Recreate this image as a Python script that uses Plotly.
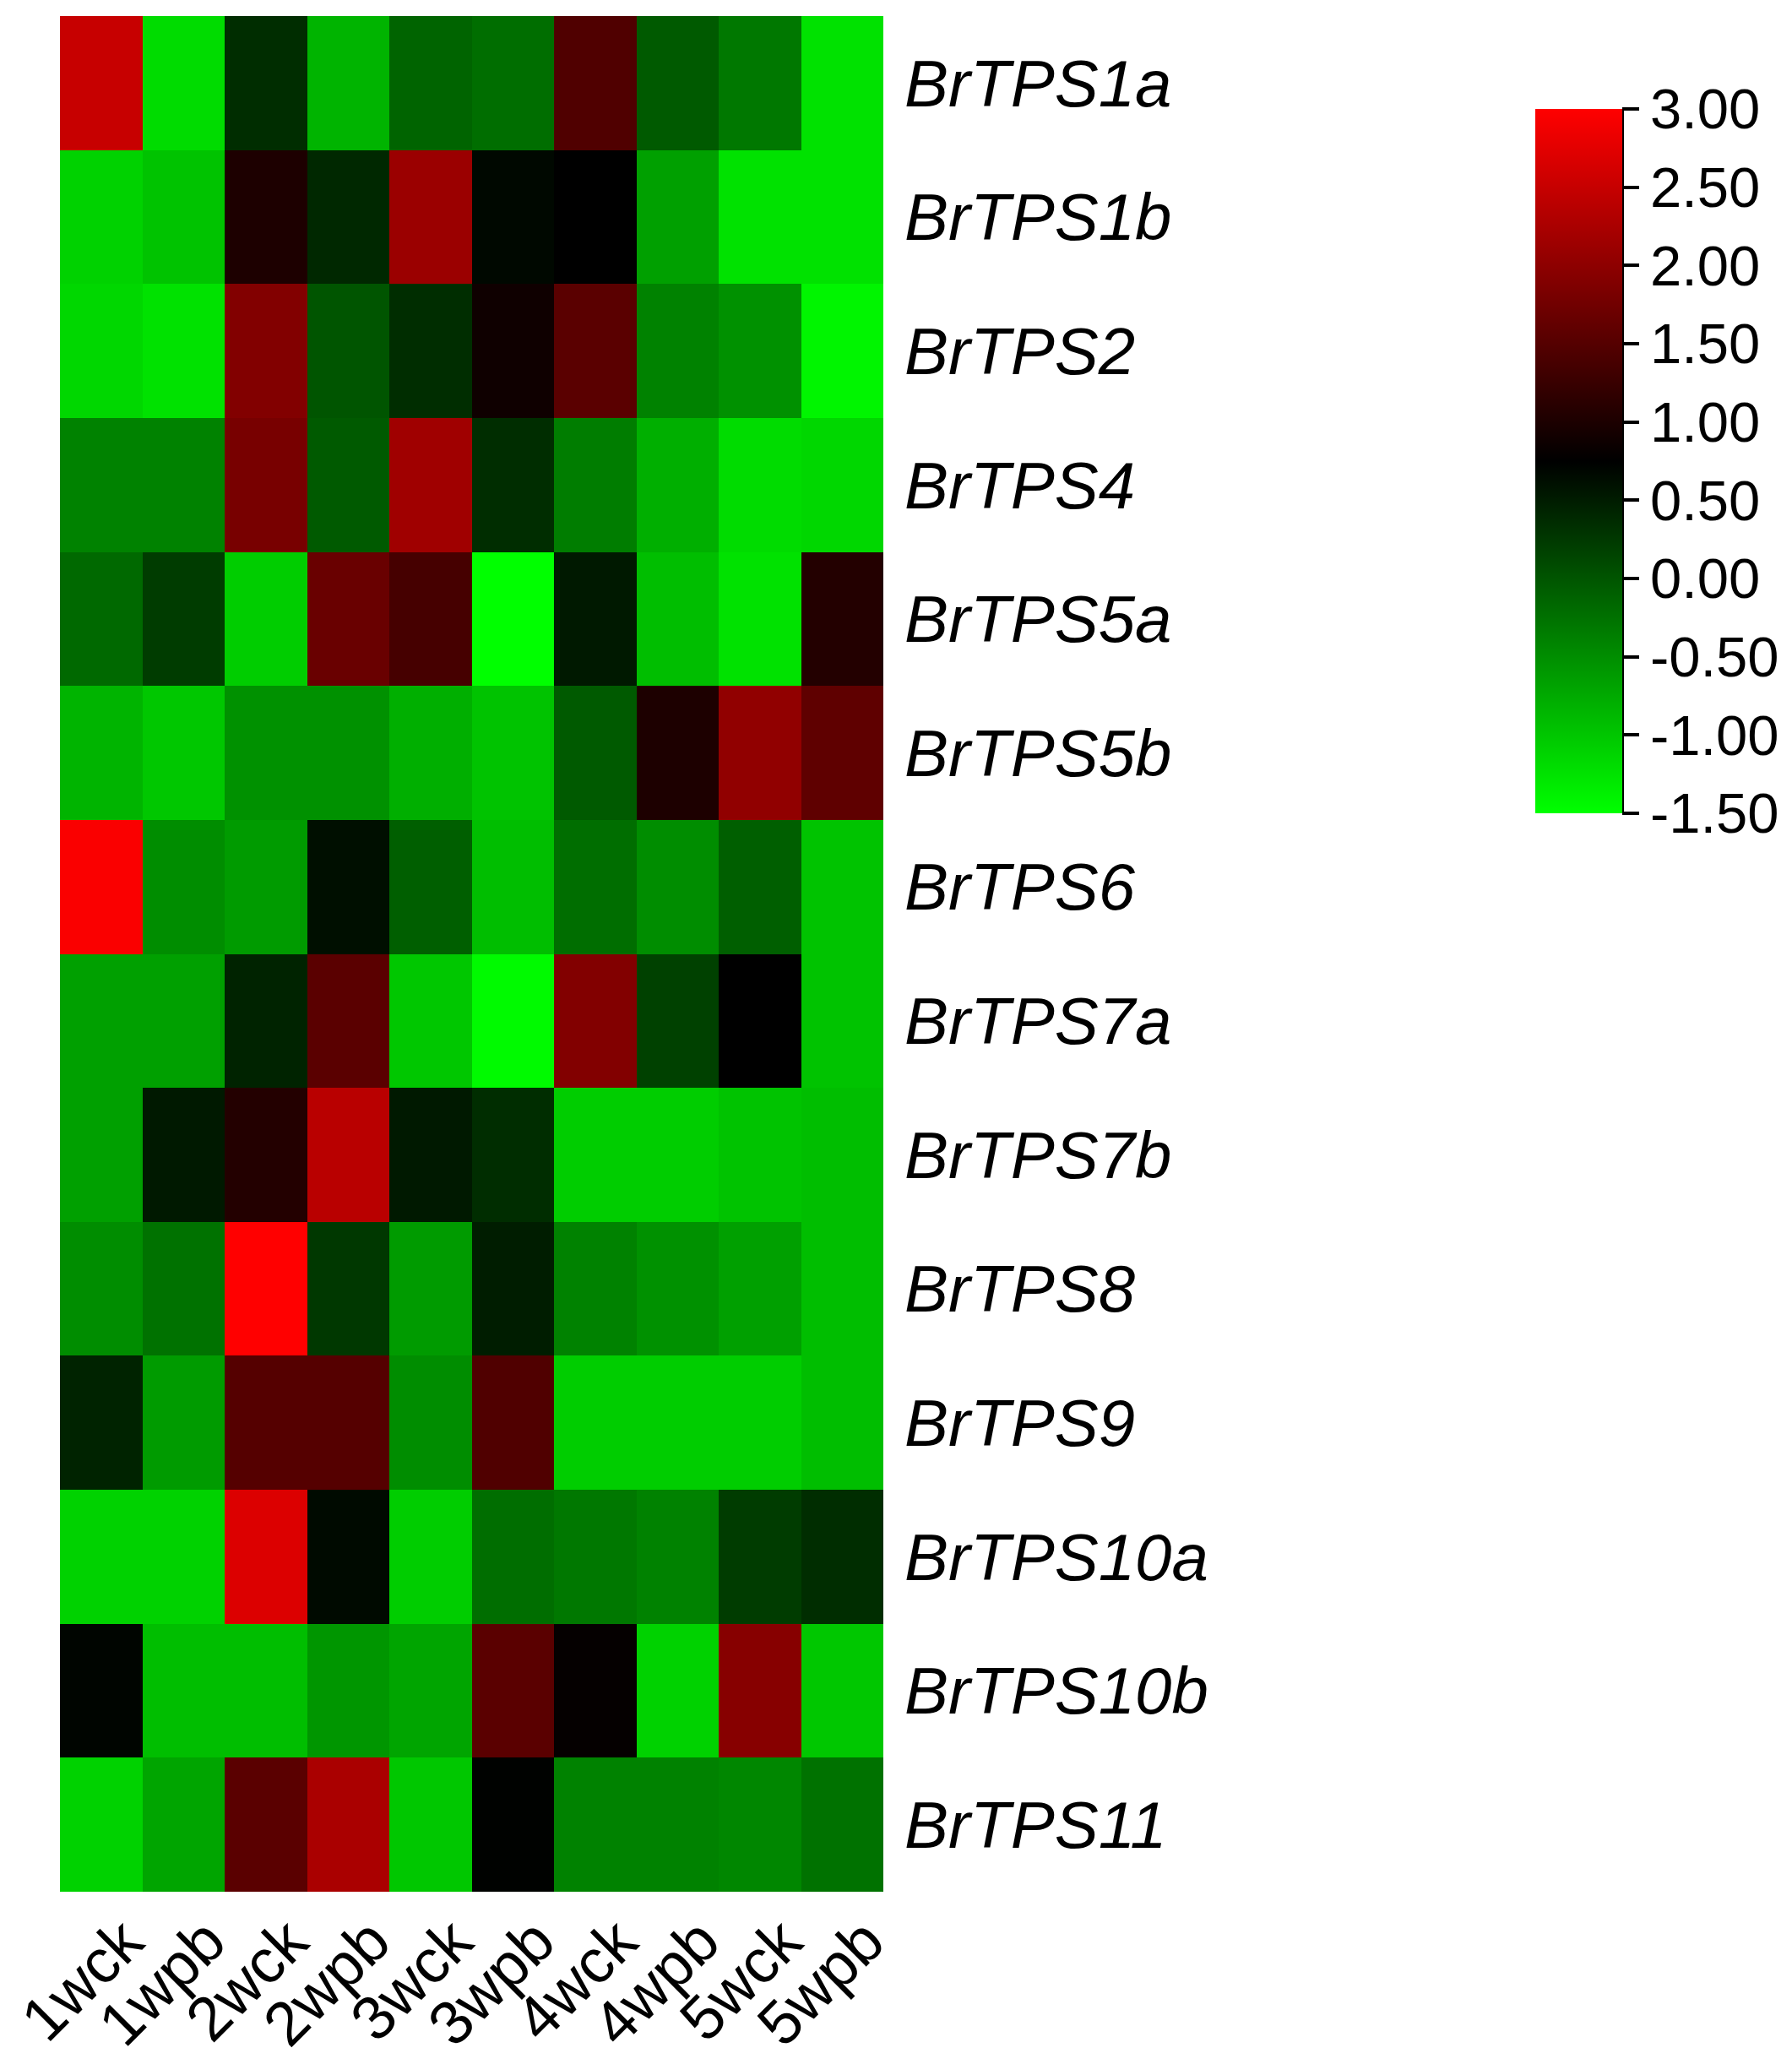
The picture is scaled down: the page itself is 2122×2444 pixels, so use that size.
import plotly.graph_objects as go

samples = ["1wck", "1wpb", "2wck", "2wpb", "3wck", "3wpb", "4wck", "4wpb", "5wck", "5wpb"]
genes = ["BrTPS1a", "BrTPS1b", "BrTPS2", "BrTPS4", "BrTPS5a", "BrTPS5b", "BrTPS6",
         "BrTPS7a", "BrTPS7b", "BrTPS8", "BrTPS9", "BrTPS10a", "BrTPS10b", "BrTPS11"]

BrTPS1a = [2.51, -1.19, 0.35, -0.84, -0.13, -0.22, 1.46, -0.04, -0.31, -1.24]
BrTPS1b = [-1.10, -0.97, 1.01, 0.40, 2.12, 0.68, 0.75, -0.66, -1.24, -1.24]
BrTPS2 = [-1.15, -1.24, 1.90, 0.00, 0.35, 0.88, 1.54, -0.40, -0.53, -1.41]
BrTPS4 = [-0.40, -0.40, 1.81, -0.04, 2.16, 0.35, -0.35, -0.79, -1.19, -1.15]
BrTPS5a = [-0.18, 0.22, -1.06, 1.68, 1.37, -1.50, 0.53, -0.93, -1.24, 1.06]
BrTPS5b = [-0.84, -1.01, -0.53, -0.53, -0.79, -0.97, -0.04, 1.01, 2.03, 1.59]
BrTPS6 = [2.96, -0.49, -0.62, 0.62, -0.09, -0.93, -0.22, -0.49, -0.09, -0.97]
BrTPS7a = [-0.66, -0.66, 0.44, 1.54, -1.01, -1.46, 1.90, 0.18, 0.75, -0.97]
BrTPS7b = [-0.66, 0.53, 1.06, 2.38, 0.53, 0.35, -1.06, -1.06, -0.97, -0.93]
BrTPS8 = [-0.49, -0.26, 3.00, 0.26, -0.62, 0.49, -0.40, -0.53, -0.66, -0.93]
BrTPS9 = [0.44, -0.62, 1.50, 1.50, -0.49, 1.46, -1.06, -1.06, -1.06, -0.93]
BrTPS10a = [-1.10, -1.10, 2.69, 0.66, -1.06, -0.22, -0.31, -0.40, 0.22, 0.35]
BrTPS10b = [0.71, -0.93, -0.93, -0.57, -0.71, 1.54, 0.79, -1.10, 1.94, -1.01]
BrTPS11 = [-1.10, -0.71, 1.54, 2.25, -1.01, 0.73, -0.40, -0.40, -0.44, -0.26]

z = [BrTPS1a, BrTPS1b, BrTPS2, BrTPS4, BrTPS5a, BrTPS5b, BrTPS6,
     BrTPS7a, BrTPS7b, BrTPS8, BrTPS9, BrTPS10a, BrTPS10b, BrTPS11]

cbar_ticks = [3.0, 2.5, 2.0, 1.5, 1.0, 0.5, 0.0, -0.5, -1.0, -1.5]
cbar_labels = ["3.00", "2.50", "2.00", "1.50", "1.00", "0.50", "0.00", "-0.50", "-1.00", "-1.50"]

OFF = 8  # default page body margin
W, H = 2114, 2436
L, T = 71 - OFF, 19 - OFF
pw = 1046 - 71
ph = 2240 - 19
R = W - L - pw
B = H - T - ph

def px_x(x):
    return (x - OFF - L) / pw

def px_y(y):
    return 1 - (y - OFF - T) / ph

cb_top, cb_bot, cb_left, cb_right = 129, 963, 1818, 1923

fig = go.Figure(go.Heatmap(
    z=z, x=samples, y=genes,
    zmin=-1.5, zmax=3.0,
    colorscale=[[0, "rgb(0,255,0)"], [0.5, "rgb(0,0,0)"], [1, "rgb(255,0,0)"]],
    xgap=0, ygap=0,
    colorbar=dict(
        thicknessmode="pixels", thickness=cb_right - cb_left - 2,
        lenmode="pixels", len=cb_bot - cb_top,
        x=px_x(cb_left), xanchor="left", xpad=0,
        y=px_y(cb_top), yanchor="top", ypad=0,
        tickvals=cbar_ticks, ticktext=cbar_labels,
        ticks="outside", ticklen=20, tickwidth=4, tickcolor="black",
        outlinewidth=0,
        tickfont=dict(family="Liberation Sans, Arial", size=67, color="black"),
    ),
))

fig.add_shape(type="line", xref="paper", yref="paper",
              x0=px_x(cb_right - 2), x1=px_x(cb_right - 2),
              y0=px_y(cb_bot), y1=px_y(cb_top),
              line=dict(color="black", width=4))

fig.update_layout(
    width=W, height=H, autosize=False,
    margin=dict(l=L, r=R, t=T, b=B, pad=0, autoexpand=False),
    paper_bgcolor="white", plot_bgcolor="white",
    font=dict(family="Liberation Sans, Arial", color="black"),
    xaxis=dict(
        tickangle=-45, ticks="", showgrid=False, zeroline=False, showline=False,
        automargin=False, ticklabelshift=28,
        tickfont=dict(family="Liberation Sans, Arial", size=73, color="black"),
    ),
    yaxis=dict(
        side="right", autorange="reversed", ticks="", showgrid=False,
        zeroline=False, showline=False, ticklabelstandoff=24, automargin=False,
        tickfont=dict(family="Liberation Sans, Arial", size=78, color="black", style="italic"),
    ),
)

fig.write_html("out.html")
